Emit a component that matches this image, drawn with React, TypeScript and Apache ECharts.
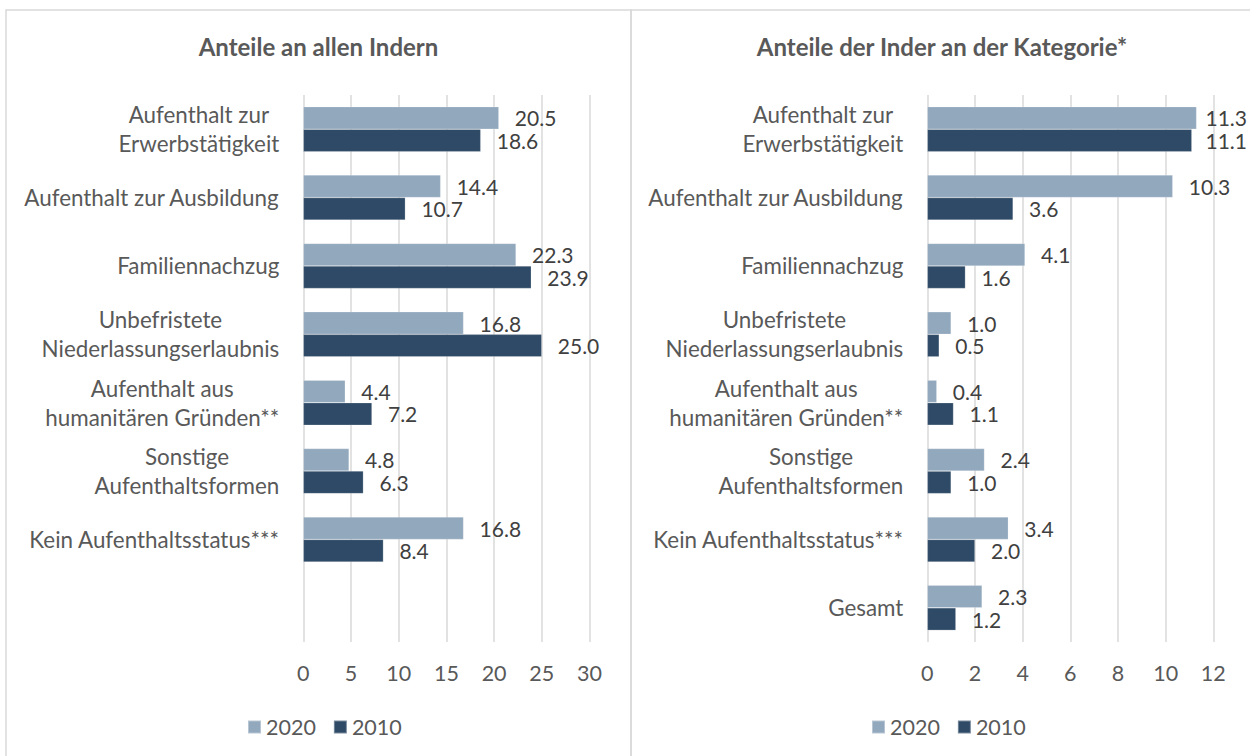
import React, { useEffect, useRef } from "react";
import * as echarts from "echarts";

// ---- data ----
const categoriesLeft = [
  "Aufenthalt zur\nErwerbstätigkeit",
  "Aufenthalt zur Ausbildung",
  "Familiennachzug",
  "Unbefristete\nNiederlassungserlaubnis",
  "Aufenthalt aus\nhumanitären Gründen**",
  "Sonstige\nAufenthaltsformen",
  "Kein Aufenthaltsstatus***",
  "",
];
const categoriesRight = [
  "Aufenthalt zur\nErwerbstätigkeit",
  "Aufenthalt zur Ausbildung",
  "Familiennachzug",
  "Unbefristete\nNiederlassungserlaubnis",
  "Aufenthalt aus\nhumanitären Gründen**",
  "Sonstige\nAufenthaltsformen",
  "Kein Aufenthaltsstatus***",
  "Gesamt",
];
const seriesNames = ["2020", "2010"];
const left2020 = [20.5, 14.4, 22.3, 16.8, 4.4, 4.8, 16.8, null];
const left2010 = [18.6, 10.7, 23.9, 25.0, 7.2, 6.3, 8.4, null];
const right2020 = [11.3, 10.3, 4.1, 1.0, 0.4, 2.4, 3.4, 2.3];
const right2010 = [11.1, 3.6, 1.6, 0.5, 1.1, 1.0, 2.0, 1.2];
const leftAxis = { min: 0, max: 30, interval: 5 };
const rightAxis = { min: 0, max: 12, interval: 2 };
const titles = ["Anteile an allen Indern", "Anteile der Inder an der Kategorie*"];

// ---- styles ----
const FONT = 'Lato, "Open Sans", sans-serif';
const LIGHT = "#92a8bd";
const DARK = "#2e4a66";
const GRID_COLOR = "#d9d9d9";
const LABEL_COLOR = "#595959";
const VALUE_COLOR = "#404040";
const MAX_LABEL_RIGHT = 1247;

function makeSeries(
  name: string,
  data: (number | null)[],
  color: string,
  idx: number,
  dy: number
) {
  return {
    type: "bar",
    name,
    data,
    xAxisIndex: idx,
    yAxisIndex: idx,
    barGap: "0%",
    barCategoryGap: "34%",
    itemStyle: { color, borderColor: "rgba(255,255,255,0.35)", borderWidth: 0.6 },
    label: {
      show: true,
      position: "right",
      distance: 16,
      offset: [0, dy],
      color: VALUE_COLOR,
      fontSize: 21,
      lineHeight: 20,
      fontFamily: FONT,
      formatter: (p: any) => (p.value == null ? "" : Number(p.value).toFixed(1)),
    },
    labelLayout: (params: any) => {
      const r = params.labelRect;
      if (!r) return {};
      const over = r.x + r.width - MAX_LABEL_RIGHT;
      return over > 0 ? { dx: -over } : {};
    },
  };
}

function makeYAxis(cats: string[], idx: number) {
  return {
    type: "category",
    gridIndex: idx,
    data: cats,
    inverse: true,
    axisLine: { show: false },
    axisTick: { show: false },
    axisLabel: {
      margin: 24,
      formatter: (v: string) =>
        v ? v.split("\n").map((l) => `{c|${l}}`).join("\n") : "",
      rich: {
        c: {
          align: "center",
          fontSize: 22.4,
          fontFamily: FONT,
          color: LABEL_COLOR,
          lineHeight: 29,
        },
      },
    },
  };
}

function makeXAxis(ax: { min: number; max: number; interval: number }, idx: number) {
  return {
    type: "value",
    gridIndex: idx,
    min: ax.min,
    max: ax.max,
    interval: ax.interval,
    axisLine: { show: false },
    axisTick: { show: false },
    splitLine: { show: true, lineStyle: { color: GRID_COLOR, width: 1.5 } },
    axisLabel: {
      margin: 20,
      fontSize: 21.5,
      lineHeight: 22,
      color: LABEL_COLOR,
      fontFamily: FONT,
    },
  };
}

function makeLegend(left: number) {
  return {
    data: seriesNames,
    left,
    top: 716,
    padding: 0,
    icon: "rect",
    itemWidth: 13,
    itemHeight: 13,
    itemGap: 17,
    selectedMode: false,
    textStyle: { fontSize: 21.5, lineHeight: 22, color: LABEL_COLOR, fontFamily: FONT },
  };
}

export default function App() {
  const ref = useRef<HTMLDivElement>(null);
  useEffect(() => {
    if (!ref.current) return;
    const chart = echarts.init(ref.current, undefined, { renderer: "svg" });
    const borderStyle = { fill: "none", stroke: GRID_COLOR, lineWidth: 1.5 };
    chart.setOption({
      animation: false,
      backgroundColor: "#ffffff",
      title: [
        {
          text: titles[0],
          left: 318.5,
          top: 34,
          textAlign: "center",
          padding: 0,
          textStyle: { fontSize: 24, fontWeight: "bold", color: LABEL_COLOR, fontFamily: FONT },
        },
        {
          text: titles[1],
          left: 942,
          top: 34,
          textAlign: "center",
          padding: 0,
          textStyle: { fontSize: 24, fontWeight: "bold", color: LABEL_COLOR, fontFamily: FONT },
        },
      ],
      legend: [makeLegend(247), makeLegend(871)],
      grid: [
        { left: 303.3, top: 95, width: 286.2, height: 547 },
        { left: 927.3, top: 95, width: 286, height: 547 },
      ],
      xAxis: [makeXAxis(leftAxis, 0), makeXAxis(rightAxis, 1)],
      yAxis: [makeYAxis(categoriesLeft, 0), makeYAxis(categoriesRight, 1)],
      series: [
        makeSeries(seriesNames[0], left2020, LIGHT, 0, -2),
        makeSeries(seriesNames[1], left2010, DARK, 0, 2),
        makeSeries(seriesNames[0], right2020, LIGHT, 1, -2),
        makeSeries(seriesNames[1], right2010, DARK, 1, 2),
      ],
      graphic: [
        { type: "rect", silent: true, shape: { x: 6, y: 10, width: 625, height: 780 }, style: borderStyle },
        { type: "rect", silent: true, shape: { x: 631, y: 10, width: 660, height: 780 }, style: borderStyle },
      ],
    });
    return () => chart.dispose();
  }, []);
  return (
    <div
      ref={ref}
      style={{ position: "absolute", left: 0, top: 0, width: 1250, height: 756 }}
    />
  );
}
